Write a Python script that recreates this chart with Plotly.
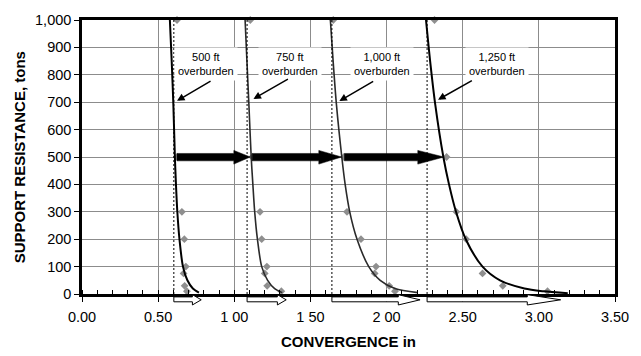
import plotly.graph_objects as go

# ---------------- data ----------------
overburden = ["500 ft", "750 ft", "1,000 ft", "1,250 ft"]

# measured support points (diamonds)
pts_y = [1000, 500, 300, 200, 100, 75, 30, 10]
pts_x_500 = [0.624, 0.624, 0.656, 0.672, 0.682, 0.667, 0.674, 0.689]
pts_x_750 = [1.105, 1.118, 1.169, 1.180, 1.214, 1.200, 1.216, 1.309]
pts_x_1000 = [1.650, 1.720, 1.740, 1.832, 1.931, 1.922, 2.017, 2.055]
pts_y_1250 = [1000, 500, 300, 200, 75, 30, 10]
pts_x_1250 = [2.315, 2.394, 2.458, 2.523, 2.630, 2.763, 3.057]

# fitted curves
fit_y = [1000, 850, 690, 500, 400, 300, 200, 100, 50, 20, 5]
fit_x_500 = [0.577, 0.589, 0.600, 0.610, 0.617, 0.626, 0.640, 0.663, 0.692, 0.728, 0.768]
fit_x_750 = [1.071, 1.083, 1.096, 1.111, 1.122, 1.134, 1.152, 1.180, 1.219, 1.265, 1.315]
fit_x_1000 = [1.631, 1.649, 1.671, 1.706, 1.728, 1.758, 1.806, 1.883, 1.958, 2.055, 2.205]
fit_y_1250 = [1000, 850, 690, 500, 400, 300, 200, 100, 50, 20, 10, 3]
fit_x_1250 = [2.259, 2.286, 2.320, 2.373, 2.410, 2.456, 2.520, 2.630, 2.745, 2.905, 3.030, 3.190]

# initial convergence (dashed lines) and convergence ranges (hollow arrows)
dash_x = [0.603, 1.084, 1.641, 2.266]
range_end = [0.783, 1.341, 2.220, 3.143]
range_shaft_end = [0.725, 1.283, 2.077, 2.924]

# shift arrows at 500 tons
shift_level = 500
shift_start = [0.624, 1.118, 1.723]
shift_head = [0.997, 1.555, 2.205]
shift_tip = [1.105, 1.705, 2.377]

# label positions
label_x = [0.813, 1.369, 1.970, 2.725]
label_y = [839, 839, 839, 839]
pointer_tail = [(0.854, 780), (1.362, 787), (1.922, 779), (2.570, 782)]
pointer_head = [(0.624, 705), (1.126, 712), (1.690, 704), (2.338, 709)]

x_tickvals = [0, 0.5, 1.0, 1.5, 2.0, 2.5, 3.0, 3.5]
x_ticktext = ["0.00", "0.50", "1 00", "1 50", "2 00", "2.50", "3.00", "3.50"]

FONT = "Liberation Sans, Arial, sans-serif"

fig = go.Figure()

pts = [(pts_x_500, pts_y), (pts_x_750, pts_y), (pts_x_1000, pts_y), (pts_x_1250, pts_y_1250)]
for (px, py), name in zip(pts, overburden):
    fig.add_trace(go.Scatter(x=px, y=py, mode="markers", name=name,
                             marker=dict(symbol="diamond", size=6, color="#8f8f8f"),
                             cliponaxis=False, showlegend=False))

fits = [(fit_x_500, fit_y, "#000000", 2), (fit_x_750, fit_y, "#2a2a2a", 1.6),
        (fit_x_1000, fit_y, "#2a2a2a", 1.6), (fit_x_1250, fit_y_1250, "#000000", 2)]
for fx, fy, col, w in fits:
    fig.add_trace(go.Scatter(x=fx, y=fy, mode="lines",
                             line=dict(color=col, width=w, shape="spline", smoothing=0.8),
                             showlegend=False))

shapes = []
for xd in dash_x:
    shapes.append(dict(type="line", xref="x", yref="y", x0=xd, x1=xd, y0=0, y1=1000,
                       line=dict(color="black", width=1, dash="2px,2px")))

# hollow arrows below the axis (paper y)
s_top, s_bot, h_top, h_bot, tip_y = -0.0105, -0.0285, -0.0025, -0.040, -0.0212
for xs, xe, xt in zip(dash_x, range_shaft_end, range_end):
    path = (f"M {xs},{s_top} L {xe},{s_top} L {xe},{h_top} L {xt},{tip_y} "
            f"L {xe},{h_bot} L {xe},{s_bot} L {xs},{s_bot} Z")
    shapes.append(dict(type="path", xref="x", yref="paper", path=path,
                       fillcolor="white", line=dict(color="black", width=1)))

# black shift arrows
for xs, xh, xt in zip(shift_start, shift_head, shift_tip):
    sy1, sy0 = shift_level + 13, shift_level - 14
    hy1, hy0 = shift_level + 24, shift_level - 26
    path = (f"M {xs},{sy1} L {xh},{sy1} L {xh},{hy1} L {xt},{shift_level} "
            f"L {xh},{hy0} L {xh},{sy0} L {xs},{sy0} Z")
    shapes.append(dict(type="path", xref="x", yref="y", path=path,
                       fillcolor="black", line=dict(color="black", width=0.5)))

annotations = []
for name, lx, ly in zip(overburden, label_x, label_y):
    annotations.append(dict(x=lx, y=ly, xref="x", yref="y", text=f"{name}<br>overburden",
                            showarrow=False, bgcolor="white", borderpad=3,
                            font=dict(family=FONT, size=11, color="black")))
for (tx, ty), (hx, hy) in zip(pointer_tail, pointer_head):
    annotations.append(dict(x=hx, y=hy, ax=tx, ay=ty, xref="x", yref="y", axref="x", ayref="y",
                            text="", showarrow=True, arrowhead=2, arrowsize=1,
                            arrowwidth=1.5, arrowcolor="black"))

annotations.append(dict(x=0.5, y=-0.173, xref="paper", yref="paper", text="<b>CONVERGENCE in</b>",
                        showarrow=False, xanchor="center", yanchor="middle",
                        font=dict(family=FONT, size=15, color="black")))
annotations.append(dict(x=-0.1176, y=0.5, xref="paper", yref="paper",
                        text="<b>SUPPORT RESISTANCE, tons</b>", textangle=-90,
                        showarrow=False, xanchor="center", yanchor="middle",
                        font=dict(family=FONT, size=15, color="black")))

fig.update_layout(
    width=641, height=356,
    margin=dict(l=82, r=15, t=13, b=62),
    paper_bgcolor="white", plot_bgcolor="white",
    font=dict(family=FONT, size=14.5, color="black"),
    shapes=shapes, annotations=annotations,
    showlegend=False,
)
fig.update_xaxes(range=[0, 3.5], tickvals=x_tickvals, ticktext=x_ticktext,
                 showgrid=True, gridcolor="#8c8c8c", gridwidth=1,
                 showline=True, linecolor="black", linewidth=2.5, mirror=True,
                 ticks="outside", ticklen=5, tickcolor="black",
                 minor=dict(dtick=0.1, ticks="inside", ticklen=4, tickcolor="black", showgrid=False),
                 zeroline=False, tickfont=dict(size=14.5), ticklabelstandoff=3)
fig.update_yaxes(range=[0, 1000], dtick=100, tickformat=",",
                 showgrid=True, gridcolor="#8c8c8c", gridwidth=1,
                 showline=True, linecolor="black", linewidth=2.5, mirror=True,
                 ticks="outside", ticklen=5, tickcolor="black",
                 zeroline=False, tickfont=dict(size=14.5))

fig.write_html("out.html")
